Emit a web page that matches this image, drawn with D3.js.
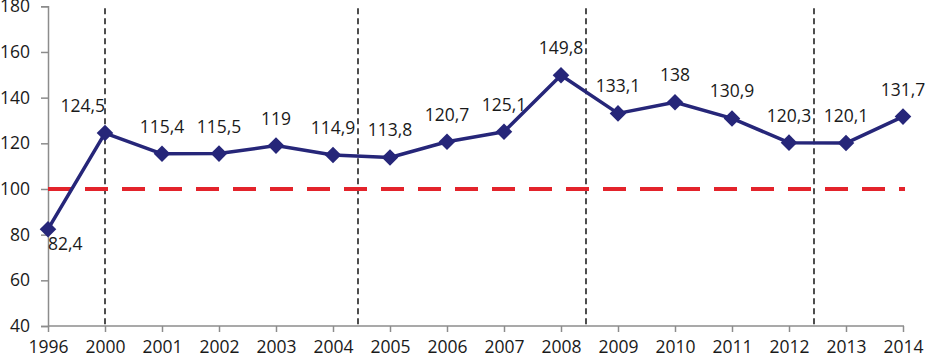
<!DOCTYPE html>
<html><head><meta charset="utf-8">
<script src="https://cdn.jsdelivr.net/npm/d3@7"></script>
<style>
html,body{margin:0;padding:0;background:#fff;}
svg{display:block;}
text{font-family:"Open Sans",sans-serif;fill:#1a1a1a;}
</style></head>
<body><svg id="c" width="925" height="358"></svg>
<script>
const years = ["1996","2000","2001","2002","2003","2004","2005","2006","2007","2008","2009","2010","2011","2012","2013","2014"];
const values = [82.4,124.5,115.4,115.5,119,114.9,113.8,120.7,125.1,149.8,133.1,138,130.9,120.3,120.1,131.7];
const valueLabels = ["82,4","124,5","115,4","115,5","119","114,9","113,8","120,7","125,1","149,8","133,1","138","130,9","120,3","120,1","131,7"];
const yTicks = [40,60,80,100,120,140,160,180];
const referenceValue = 100;
const dividerYears = ["2000","2004","2008","2012"];

const FS = "17.5px";
const svg = d3.select("#c");
const x = d3.scalePoint().domain(years).range([48, 903]);
const y = d3.scaleLinear().domain([40,180]).range([326, 6.3]);
const step = x.step();

// y axis
const yAxis = svg.append("g").attr("transform","translate(48,0)")
  .call(d3.axisLeft(y).tickValues(yTicks).tickSize(7).tickPadding(11));
yAxis.select(".domain").attr("stroke","#8c8c8c").attr("stroke-width",1.5);
yAxis.selectAll(".tick line").attr("stroke","#8c8c8c").attr("stroke-width",1.5);
yAxis.selectAll(".tick text").style("font-size",FS).style("font-family","'Open Sans',sans-serif").attr("fill","#1a1a1a");

// x axis
const xAxis = svg.append("g").attr("transform","translate(0,326)")
  .call(d3.axisBottom(x).tickSize(6).tickPadding(9).tickSizeOuter(0));
xAxis.select(".domain").attr("stroke","#8c8c8c").attr("stroke-width",1.5).attr("d","M48,0H904");
xAxis.selectAll(".tick line").attr("stroke","#8c8c8c").attr("stroke-width",1.5);
xAxis.selectAll(".tick text").style("font-size",FS).style("font-family","'Open Sans',sans-serif").attr("fill","#1a1a1a");

// vertical dashed dividers
dividerYears.forEach((yr,i)=>{
  const xx = i===0 ? x(yr) : x(yr) + step*0.5 - 3.5;
  svg.append("line").attr("x1",xx).attr("x2",xx).attr("y1",y(180)+2).attr("y2",y(40))
    .attr("stroke","#222").attr("stroke-width",1.6).attr("stroke-dasharray","6,4");
});

// red reference line
svg.append("line").attr("x1",x(years[0])).attr("x2",x(years[years.length-1])+2)
  .attr("y1",y(referenceValue)).attr("y2",y(referenceValue))
  .attr("stroke","#e3232b").attr("stroke-width",4).attr("stroke-dasharray","23,14");

// series line
const data = years.map((yr,i)=>({yr, v:values[i], lab:valueLabels[i]}));
svg.append("path").datum(data)
  .attr("d", d3.line().x(d=>x(d.yr)).y(d=>y(d.v)))
  .attr("fill","none").attr("stroke","#262679").attr("stroke-width",3.5).attr("stroke-linejoin","round");

svg.selectAll("path.mk").data(data).enter().append("path").attr("class","mk")
  .attr("transform",d=>`translate(${x(d.yr)},${y(d.v)})`)
  .attr("d", d3.symbol().type(d3.symbolDiamond2).size(175))
  .attr("fill","#262679");

// labels
svg.selectAll("text.lab").data(data).enter().append("text").attr("class","lab")
  .attr("x",d=>x(d.yr))
  .attr("y",(d,i)=> i===0 ? y(d.v)+21 : y(d.v)-21)
  .attr("text-anchor",(d,i)=> i===0 ? "start" : (i===1 ? "end" : "middle"))
  .style("font-size",FS)
  .text(d=>d.lab);
</script></body></html>
